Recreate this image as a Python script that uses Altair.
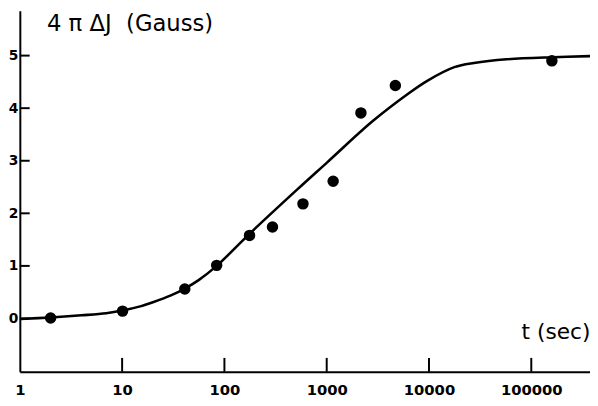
import altair as alt
import pandas as pd

# Measured points
pt_t = [2, 10.1, 41, 84, 176, 295, 586, 1156, 2160, 4690, 159000]
pt_v = [0.01, 0.14, 0.56, 1.01, 1.58, 1.74, 2.18, 2.61, 3.91, 4.43, 4.90]

# Fitted curve
curve_t = [1, 2, 4, 7, 10, 15, 20, 30, 41, 56, 84, 176, 513, 1012, 2800,
           6300, 9800, 17700, 27500, 57500, 162000, 375000]
curve_v = [-0.01, 0.02, 0.06, 0.10, 0.15, 0.23, 0.31, 0.44, 0.57, 0.73, 1.00,
           1.61, 2.45, 2.97, 3.75, 4.28, 4.53, 4.78, 4.86, 4.93, 4.97, 4.99]

x_ticks = [1, 10, 100, 1000, 10000, 100000]
y_ticks = [0, 1, 2, 3, 4, 5]
x_domain = [1, 375000]
y_domain = [-1.013, 5.854]

pts = pd.DataFrame({"t": pt_t, "v": pt_v})
curve = pd.DataFrame({"t": curve_t, "v": curve_v})
xt = pd.DataFrame({"t": x_ticks[1:], "y1": [y_domain[0]] * 5,
                   "y2": [y_domain[0] + 0.263] * 5})
yt = pd.DataFrame({"v": y_ticks, "x1": [1] * 6, "x2": [1.248] * 6})

xs = alt.Scale(type="log", domain=x_domain, nice=False)
ys = alt.Scale(domain=y_domain, nice=False, zero=False)

x_axis = alt.Axis(values=x_ticks, format="d", ticks=False, tickSize=0, grid=False,
                  labelPadding=23, labelBaseline="alphabetic", labelFont="DejaVu Sans",
                  labelFontWeight="bold", labelFontSize=15, labelColor="black",
                  labelFlush=False, labelOverlap=False, labelBound=False,
                  domainColor="black", domainWidth=2,
                  title="t\u00a0(sec)", titleFont="DejaVu Sans", titleFontSize=22,
                  titleFontWeight="normal", titleColor="black", titleAngle=0,
                  titleAlign="right", titleBaseline="alphabetic", titleX=578, titleY=-34)
y_axis = alt.Axis(values=y_ticks, format="d", ticks=False, tickSize=0, grid=False,
                  labelPadding=2, labelAlign="right", labelBaseline="middle",
                  labelFont="DejaVu Sans", labelFontWeight="bold", labelFontSize=14,
                  labelColor="black", labelFlush=False, labelOverlap=False, labelBound=False,
                  domainColor="black", domainWidth=2,
                  title="4\u00a0π\u00a0ΔJ\u00a0\u00a0(Gauss)", titleFont="DejaVu Sans",
                  titleFontSize=23, titleFontWeight="normal", titleColor="black", titleAngle=0,
                  titleAlign="left", titleBaseline="alphabetic", titleX=27, titleY=20)

line = alt.Chart(curve).mark_line(color="black", strokeWidth=2.6, interpolate="catmull-rom").encode(
    x=alt.X("t:Q", scale=xs, axis=x_axis),
    y=alt.Y("v:Q", scale=ys, axis=y_axis),
)
dots = alt.Chart(pts).mark_circle(color="black", opacity=1, size=135).encode(
    x=alt.X("t:Q", scale=xs, axis=x_axis),
    y=alt.Y("v:Q", scale=ys, axis=y_axis),
)
xtick = alt.Chart(xt).mark_rule(color="black", strokeWidth=2).encode(
    x=alt.X("t:Q", scale=xs, axis=x_axis),
    y=alt.Y("y1:Q", scale=ys, axis=y_axis),
    y2="y2:Q",
)
ytick = alt.Chart(yt).mark_rule(color="black", strokeWidth=2).encode(
    x=alt.X("x1:Q", scale=xs, axis=x_axis),
    x2="x2:Q",
    y=alt.Y("v:Q", scale=ys, axis=y_axis),
)

chart = alt.layer(line, dots, xtick, ytick).properties(
    width=578, height=366,
    autosize=alt.AutoSizeParams(type="none"),
    padding={"left": 12, "top": 0, "right": 0, "bottom": 32},
    background="white",
).configure_view(stroke=None)

chart.save("out.html", embed_options={"renderer": "svg", "actions": False})
